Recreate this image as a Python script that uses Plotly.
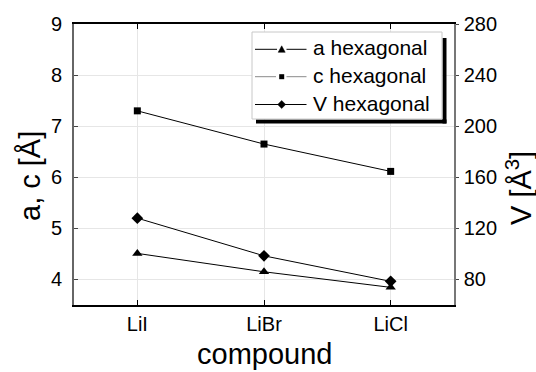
import plotly.graph_objects as go

compounds = ["LiI", "LiBr", "LiCl"]
a_hex = [4.51, 4.15, 3.845]
c_hex = [7.30, 6.65, 6.115]
V_hex = [128.0, 98.5, 78.5]
series_names = ["a hexagonal", "c hexagonal", "V hexagonal"]

FONT = "Liberation Sans, Arial, sans-serif"

fig = go.Figure()
fig.add_trace(go.Scatter(x=compounds, y=a_hex, name=series_names[0], mode="lines+markers",
                         line=dict(color="black", width=1), showlegend=False,
                         marker=dict(symbol="triangle-up", size=9, color="black")))
fig.add_trace(go.Scatter(x=compounds, y=c_hex, name=series_names[1], mode="lines+markers",
                         line=dict(color="black", width=1), showlegend=False,
                         marker=dict(symbol="square", size=7, color="black")))
fig.add_trace(go.Scatter(x=compounds, y=V_hex, name=series_names[2], mode="lines+markers",
                         line=dict(color="black", width=1), showlegend=False,
                         marker=dict(symbol="diamond", size=9, color="black"),
                         yaxis="y2"))

L, R, T, B = 74, 82, 24, 67
W, H = 536, 372
pw, ph = W - L - R, H - T - B

def px(x):
    return (x - L) / pw

def py(y):
    return (H - B - y) / ph

def rect(x0, y0, x1, y1, fill, line=None):
    fig.add_shape(type="rect", xref="paper", yref="paper",
                  x0=px(x0), x1=px(x1), y0=py(y1), y1=py(y0),
                  fillcolor=fill, line=line or dict(width=0), layer="above")

def seg(x0, x1, y, color):
    fig.add_shape(type="line", xref="paper", yref="paper",
                  x0=px(x0), x1=px(x1), y0=py(y), y1=py(y),
                  line=dict(color=color, width=1), layer="above")

def poly(points):
    d = "M " + " L ".join(f"{px(x):.5f},{py(y):.5f}" for x, y in points) + " Z"
    fig.add_shape(type="path", xref="paper", yref="paper", path=d,
                  fillcolor="black", line=dict(color="black", width=0.5), layer="above")

# legend box with shadow
rect(442.5, 38, 446.5, 123.5, "black")
rect(256, 119.5, 446.5, 123.5, "black")
rect(252, 32, 442, 119, "white", dict(color="#c8c8c8", width=1))

ys = [49.3, 76.7, 104.5]
mx = 281.7
# a hexagonal: line with gap + triangle
seg(255, 277, ys[0], "black"); seg(286.5, 306.5, ys[0], "black")
poly([(mx - 3.5, ys[0] + 3), (mx + 3.5, ys[0] + 3), (mx, ys[0] - 3.5)])
# c hexagonal: gray line with gap + square
seg(255, 276, ys[1], "#8a8a8a"); seg(286.5, 306.5, ys[1], "#8a8a8a")
rect(mx - 2.5, ys[1] - 2.5, mx + 2.5, ys[1] + 2.5, "black")
# V hexagonal: continuous line + diamond
seg(255, 306.5, ys[2], "black")
poly([(mx - 4, ys[2]), (mx, ys[2] - 4), (mx + 4, ys[2]), (mx, ys[2] + 4)])

for name, yy in zip(series_names, ys):
    fig.add_annotation(text=name, xref="paper", yref="paper", x=px(311), y=py(yy - 1.5),
                       showarrow=False, xanchor="left", yanchor="middle",
                       font=dict(size=21, color="black", family=FONT))

fig.add_annotation(text="a, c [Å]", xref="paper", yref="paper", x=px(30), y=py(176),
                   textangle=-90, showarrow=False, xanchor="center", yanchor="middle",
                   font=dict(size=29, color="black", family=FONT))
fig.add_annotation(text="V [Å<sup>3</sup>]", xref="paper", yref="paper", x=px(519), y=py(188),
                   textangle=-90, showarrow=False, xanchor="center", yanchor="middle",
                   font=dict(size=29, color="black", family=FONT))
fig.add_annotation(text="compound", xref="paper", yref="paper", x=px(264), y=py(354),
                   showarrow=False, xanchor="center", yanchor="middle",
                   font=dict(size=29, color="black", family=FONT))

fig.update_layout(
    width=W, height=H,
    margin=dict(l=L, r=R, t=T, b=B, pad=0),
    paper_bgcolor="white", plot_bgcolor="white",
    font=dict(family=FONT, color="black", size=20),
    showlegend=False,
    xaxis=dict(range=[-0.5, 2.5], showgrid=True, gridcolor="#e6e6e6", gridwidth=1,
               showline=True, linecolor="black", linewidth=1.5, mirror="ticks",
               ticks="inside", ticklen=5, tickcolor="black", zeroline=False,
               tickfont=dict(size=20), ticklabelstandoff=0),
    yaxis=dict(range=[3.5, 9], dtick=1, tick0=4, showgrid=True, gridcolor="#e6e6e6",
               showline=True, linecolor="#666666", linewidth=2, ticks="inside",
               ticklen=4, tickcolor="#444444", zeroline=False, tickfont=dict(size=20),
               ticklabelstandoff=6),
    yaxis2=dict(range=[60, 280], dtick=40, tick0=80, overlaying="y", side="right",
                showgrid=False, showline=True, linecolor="#777777", linewidth=1.5,
                ticks="outside", ticklen=3, tickcolor="#444444", zeroline=False,
                tickfont=dict(size=20), ticklabelstandoff=1),
)

fig.write_html("out.html")
